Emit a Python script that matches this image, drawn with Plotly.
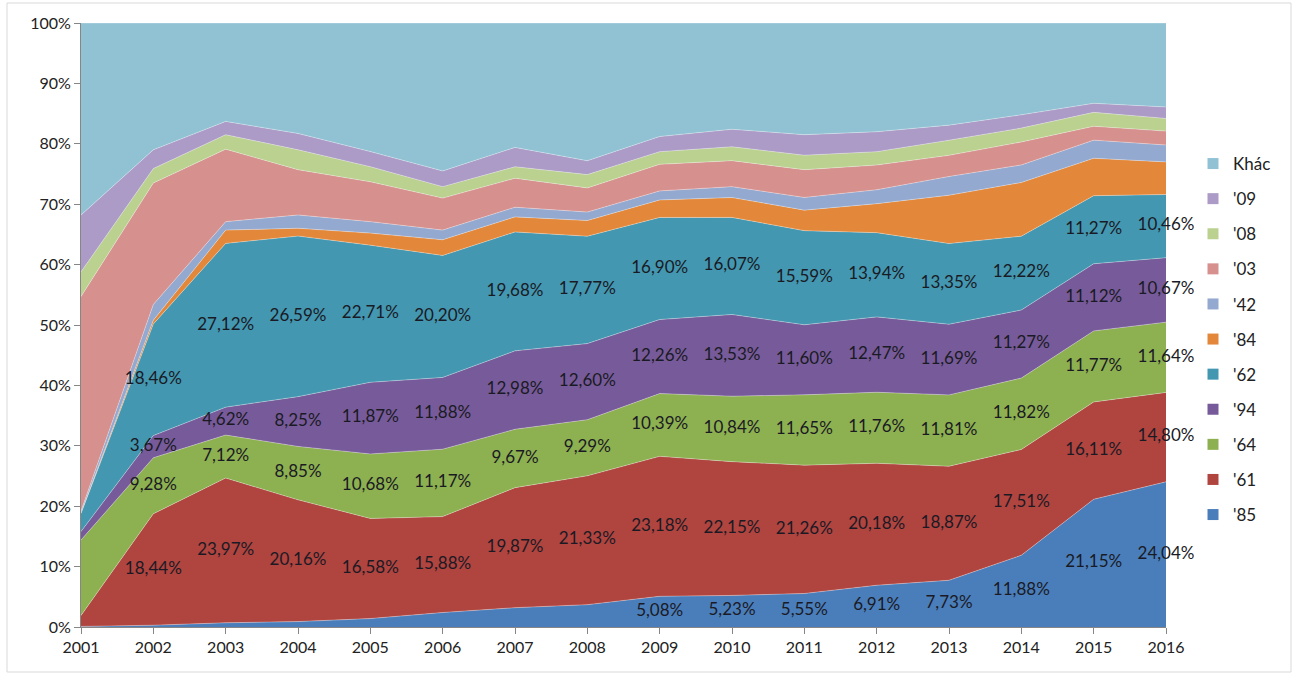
import numpy as np
import plotly.graph_objects as go

years = [2001, 2002, 2003, 2004, 2005, 2006, 2007, 2008,
         2009, 2010, 2011, 2012, 2013, 2014, 2015, 2016]

s85 = [0.1, 0.3, 0.7, 0.9, 1.4, 2.4, 3.2, 3.7, 5.08, 5.23, 5.55, 6.91, 7.73, 11.88, 21.15, 24.04]
s61 = [1.8, 18.44, 23.97, 20.16, 16.58, 15.88, 19.87, 21.33, 23.18, 22.15, 21.26, 20.18, 18.87, 17.51, 16.11, 14.80]
s64 = [12.5, 9.28, 7.12, 8.85, 10.68, 11.17, 9.67, 9.29, 10.39, 10.84, 11.65, 11.76, 11.81, 11.82, 11.77, 11.64]
s94 = [1.4, 3.67, 4.62, 8.25, 11.87, 11.88, 12.98, 12.60, 12.26, 13.53, 11.60, 12.47, 11.69, 11.27, 11.12, 10.67]
s62 = [3.0, 18.46, 27.12, 26.59, 22.71, 20.20, 19.68, 17.77, 16.90, 16.07, 15.59, 13.94, 13.35, 12.22, 11.27, 10.46]
s84 = [0.1, 0.65, 2.2, 1.3, 2.0, 2.6, 2.5, 2.6, 2.9, 3.3, 3.4, 4.8, 8.0, 8.9, 6.2, 5.4]
s42 = [0.3, 2.6, 1.4, 2.2, 1.9, 1.6, 1.6, 1.4, 1.5, 1.8, 2.1, 2.3, 3.1, 2.9, 3.0, 2.8]
s03 = [35.5, 20.1, 12.0, 7.5, 6.6, 5.3, 4.8, 4.0, 4.4, 4.3, 4.6, 4.1, 3.5, 3.8, 2.3, 2.3]
s08 = [4.1, 2.4, 2.4, 3.3, 2.5, 1.9, 1.9, 2.2, 2.1, 2.3, 2.4, 2.2, 2.5, 2.3, 2.3, 2.1]
s09 = [9.4, 3.1, 2.2, 2.7, 2.5, 2.6, 3.2, 2.3, 2.5, 2.9, 3.4, 3.3, 2.5, 2.2, 1.5, 1.9]
khac = [31.8, 21.0, 16.3, 18.3, 21.3, 24.5, 20.6, 22.8, 18.8, 17.6, 18.5, 18.0, 16.9, 15.2, 13.3, 13.9]

series_names = ["'85", "'61", "'64", "'94", "'62", "'84", "'42", "'03", "'08", "'09", "Khác"]
series_vals = [s85, s61, s64, s94, s62, s84, s42, s03, s08, s09, khac]
colors = ["#4A7EBB", "#B0443F", "#8DB050", "#775A99", "#4397B1", "#E3883A",
          "#93A9D0", "#D6908E", "#BAD190", "#AC9BC6", "#90C2D4"]

# which years carry a data label for each series (first five series only)
label_start = {"'85": 2009, "'61": 2002, "'64": 2002, "'94": 2002, "'62": 2002}

W, H = 1297, 674
L, R, T, B = 81, 131, 23, 47
PW, PH = W - L - R, H - T - B

FONT = "Lato"

fig = go.Figure()
arr = np.array(series_vals, dtype=float)
norm = arr / arr.sum(axis=0) * 100.0
cum = np.cumsum(norm, axis=0)

for i, (name, vals) in enumerate(zip(series_names, series_vals)):
    fig.add_trace(go.Scatter(
        x=years, y=vals, name=name, mode="lines",
        stackgroup="one", groupnorm="percent",
        line=dict(width=0.7, color="rgba(255,255,255,0.45)"),
        fillcolor=colors[i], showlegend=False, hoverinfo="skip"))

# data labels
for i, name in enumerate(series_names):
    if name not in label_start:
        continue
    xs, ys, ts = [], [], []
    for j, yr in enumerate(years):
        if yr < label_start[name]:
            continue
        base = cum[i - 1, j] if i > 0 else 0.0
        xs.append(yr)
        ys.append(base + norm[i, j] / 2)
        ts.append(f"{series_vals[i][j]:.2f}%".replace(".", ","))
    fig.add_trace(go.Scatter(
        x=xs, y=ys, text=ts, mode="text", showlegend=False, hoverinfo="skip",
        cliponaxis=False,
        textfont=dict(family=FONT, size=17, color="#1A1A24")))

# legend entries (square markers), top item = last series
for i in reversed(range(len(series_names))):
    name = series_names[i]
    fig.add_trace(go.Scatter(
        x=[None], y=[None], mode="markers", name=name, legendgroup=name,
        marker=dict(symbol="square", size=11, color=colors[i])))

def px(xp):
    return (xp - L) / PW

def py(yp):
    return (H - B - yp) / PH

fig.update_layout(
    width=W, height=H, autosize=False,
    margin=dict(l=L, r=R, t=T, b=B),
    paper_bgcolor="white", plot_bgcolor="white",
    font=dict(family=FONT, size=16, color="#222222"),
    showlegend=True,
    legend=dict(traceorder="grouped", x=px(1193), y=py(146), xanchor="left", yanchor="top",
                font=dict(family=FONT, size=17, color="#222222"),
                tracegroupgap=10, itemwidth=30, bgcolor="rgba(0,0,0,0)"),
    xaxis=dict(range=[2001, 2016], tickmode="array", tickvals=years,
               ticktext=[str(y) for y in years], showgrid=False, zeroline=False,
               showline=True, linecolor="#868686", linewidth=1,
               ticks="outside", ticklen=6, tickcolor="#868686",
               tickfont=dict(family=FONT, size=16, color="#222222")),
    yaxis=dict(range=[0, 100], tickmode="array", tickvals=list(range(0, 101, 10)),
               ticktext=[f"{v}%" for v in range(0, 101, 10)], showgrid=False, zeroline=False,
               showline=True, linecolor="#868686", linewidth=1,
               ticks="outside", ticklen=6, tickcolor="#868686",
               tickfont=dict(family=FONT, size=16, color="#222222")),
    shapes=[dict(type="rect", xref="paper", yref="paper",
                 x0=px(7), x1=px(1291), y0=py(672), y1=py(3),
                 line=dict(color="#D9D9D9", width=1), fillcolor="rgba(0,0,0,0)", layer="below")],
)

fig.write_html("out.html")
